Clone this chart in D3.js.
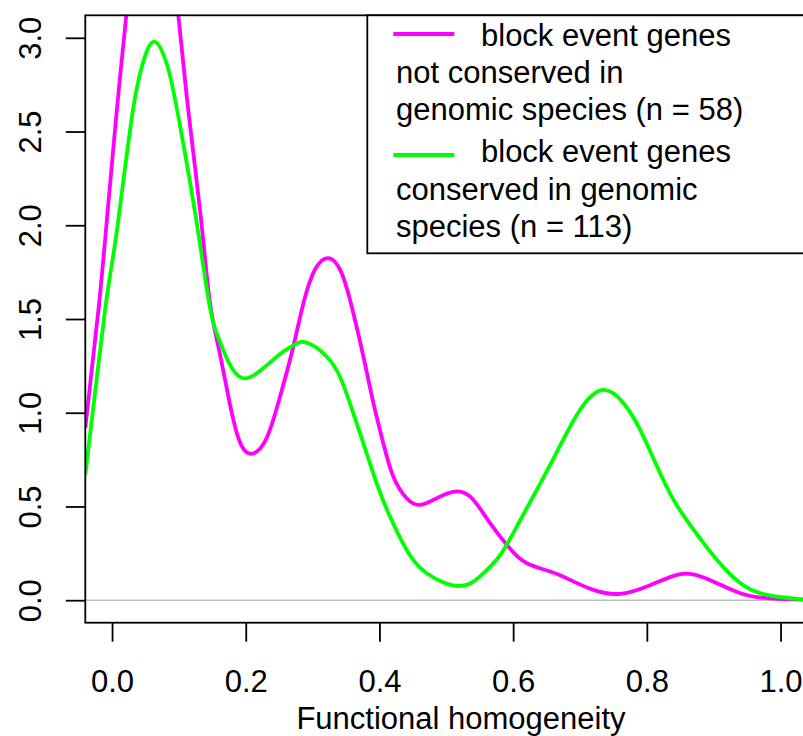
<!DOCTYPE html>
<html>
<head>
<meta charset="utf-8">
<script src="https://cdn.jsdelivr.net/npm/d3@7"></script>
<style>
  body { margin: 0; background: #fff; }
  text { font-family: "Liberation Sans", Arial, Helvetica, sans-serif; }
</style>
</head>
<body>
<svg id="chart" width="803" height="736"></svg>
<script>
// density of genes not conserved in genomic species (magenta)
const notConservedX = [-0.04, -0.02, -0.0072, 0.0063, 0.0213, 0.04, 0.061, 0.08, 0.0992, 0.115, 0.1326, 0.146,
  0.160, 0.175, 0.190, 0.2075, 0.230, 0.250, 0.270, 0.2864, 0.3034, 0.3233, 0.3434, 0.361, 0.376, 0.391,
  0.4057, 0.4207, 0.4407, 0.4607, 0.4857, 0.5156, 0.5406, 0.5655, 0.5955, 0.6205, 0.6554, 0.680, 0.720,
  0.760, 0.800, 0.840, 0.8674, 0.900, 0.940, 0.980, 1.04, 1.09]
const notConservedY = [0.92, 1.56, 2.05, 2.58, 3.118, 3.63, 3.84, 3.68, 3.118, 2.584, 2.05, 1.60,
  1.336, 1.069, 0.855, 0.781, 0.855, 1.069, 1.336, 1.585, 1.763, 1.825, 1.745, 1.531, 1.300, 1.051,
  0.838, 0.660, 0.544, 0.509, 0.544, 0.580, 0.535, 0.411, 0.274, 0.197, 0.153, 0.117, 0.055,
  0.034, 0.073, 0.130, 0.139, 0.099, 0.037, 0.011, 0.002, 0.0]

// density of genes conserved in genomic species (green)
const conservedX = [-0.04, -0.025, -0.01, 0.0, 0.0102, 0.030, 0.045, 0.0626, 0.0827, 0.099, 0.125, 0.1465,
  0.1603, 0.175, 0.195, 0.220, 0.250, 0.270, 0.290, 0.3209, 0.3408, 0.3558, 0.3758, 0.3958, 0.4157,
  0.4407, 0.4707, 0.5206, 0.5556, 0.5805, 0.6055, 0.630, 0.6554, 0.680, 0.7053, 0.7353, 0.7652, 0.790,
  0.8153, 0.840, 0.870, 0.905, 0.940, 0.980, 1.04, 1.09]
const conservedY = [0.67, 1.12, 1.56, 1.80, 2.05, 2.584, 2.851, 2.98, 2.851, 2.584, 2.05, 1.56,
  1.389, 1.265, 1.185, 1.22, 1.309, 1.357, 1.375, 1.300, 1.193, 1.051, 0.838, 0.624, 0.446,
  0.268, 0.144, 0.076, 0.144, 0.24, 0.393, 0.553, 0.722, 0.891, 1.042, 1.122, 1.051, 0.909,
  0.713, 0.535, 0.375, 0.215, 0.091, 0.028, 0.003, 0.0]

const xTicks = [0, 0.2, 0.4, 0.6, 0.8, 1.0]
const yTicks = [0, 0.5, 1, 1.5, 2, 2.5, 3]
const seriesColors = ["#ff00ff", "#00ff00"]
const legendLabels = [
  ["block event genes", "not conserved in", "genomic species (n = 58)"],
  ["block event genes", "conserved in genomic", "species (n = 113)"]
]
const xLabel = "Functional homogeneity"

const svg = d3.select("#chart")
const plotLeft = 85.3, plotRight = 836.7, plotTop = 15.3, plotBottom = 622.7
const fontStack = '"Liberation Sans", Arial, Helvetica, sans-serif'

const xScale = d3.scaleLinear().domain([-0.04, 1.084]).range([plotLeft, plotRight])
const yScale = d3.scaleLinear().domain([-0.12, 3.12]).range([plotBottom, plotTop])

// clip curves to the plot region
svg.append("clipPath").attr("id", "plotclip")
  .append("rect")
  .attr("x", plotLeft).attr("y", plotTop)
  .attr("width", plotRight - plotLeft).attr("height", plotBottom - plotTop)

// zero reference line
svg.append("line")
  .attr("x1", plotLeft).attr("x2", plotRight)
  .attr("y1", yScale(0)).attr("y2", yScale(0))
  .attr("stroke", "#bebebe").attr("stroke-width", 1.5)

const line = d3.line()
  .x(d => xScale(d[0]))
  .y(d => yScale(d[1]))
  .curve(d3.curveNatural)

const series = [
  d3.zip(notConservedX, notConservedY),
  d3.zip(conservedX, conservedY)
]

svg.append("g").attr("clip-path", "url(#plotclip)")
  .selectAll("path")
  .data(series)
  .join("path")
  .attr("d", line)
  .attr("fill", "none")
  .attr("stroke", (d, i) => seriesColors[i])
  .attr("stroke-width", 3.8)

// plot box (right side falls outside the picture)
svg.append("rect")
  .attr("x", plotLeft).attr("y", plotTop)
  .attr("width", plotRight - plotLeft).attr("height", plotBottom - plotTop)
  .attr("fill", "none").attr("stroke", "#000").attr("stroke-width", 1.8)

// x axis
const xAxis = svg.append("g")
  .attr("transform", `translate(0,${plotBottom})`)
  .call(d3.axisBottom(xScale).tickValues(xTicks).tickSize(19).tickFormat(d3.format(".1f")))
xAxis.select(".domain").remove()
xAxis.selectAll("line").attr("stroke-width", 1.8)
xAxis.selectAll("text")
  .attr("y", 69.3).attr("dy", null)
  .attr("font-size", 31).attr("fill", "#000")
  .style("font-family", fontStack)

// y axis
const yAxis = svg.append("g")
  .attr("transform", `translate(${plotLeft},0)`)
  .call(d3.axisLeft(yScale).tickValues(yTicks).tickSize(19.5).tickFormat(d3.format(".1f")))
yAxis.select(".domain").remove()
yAxis.selectAll("line").attr("stroke-width", 1.8)
yAxis.selectAll("text")
  .attr("x", null).attr("dy", null)
  .attr("transform", `translate(${41 - plotLeft},0) rotate(-90)`)
  .attr("text-anchor", "middle")
  .attr("font-size", 31).attr("fill", "#000")
  .style("font-family", fontStack)

// axis title
svg.append("text")
  .attr("x", (plotLeft + plotRight) / 2).attr("y", 728.5)
  .attr("text-anchor", "middle")
  .attr("font-size", 31)
  .text(xLabel)

// legend
const legend = svg.append("g")
legend.append("rect")
  .attr("x", 367.3).attr("y", plotTop)
  .attr("width", plotRight - 367.3).attr("height", 253.3 - plotTop)
  .attr("fill", "#fff").attr("stroke", "#000").attr("stroke-width", 1.8)

const legendLineY = [34, 155]
const legendBaselines = [[45.7, 83.3, 120.4], [162.3, 200, 237.3]]

legend.selectAll(".key")
  .data(legendLabels)
  .join("line")
  .attr("class", "key")
  .attr("x1", 393.3).attr("x2", 454.3)
  .attr("y1", (d, i) => legendLineY[i]).attr("y2", (d, i) => legendLineY[i])
  .attr("stroke", (d, i) => seriesColors[i])
  .attr("stroke-width", 3.8)

legendLabels.forEach((lines, i) => {
  legend.selectAll(`.lab${i}`)
    .data(lines)
    .join("text")
    .attr("class", `lab${i}`)
    .attr("x", (d, j) => j === 0 ? 481 : 396)
    .attr("y", (d, j) => legendBaselines[i][j])
    .attr("font-size", 31)
    .text(d => d)
})
</script>
</body>
</html>
